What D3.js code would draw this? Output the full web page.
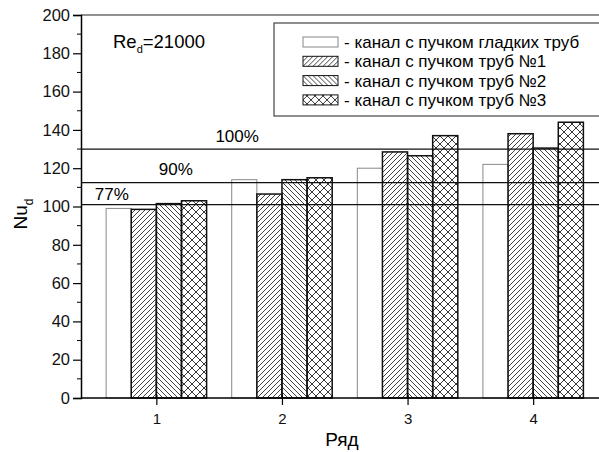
<!DOCTYPE html>
<html>
<head>
<meta charset="utf-8">
<script src="https://cdn.jsdelivr.net/npm/d3@7"></script>
<style>
  body { margin: 0; background: #fff; }
  svg { font-family: Arial, "Liberation Sans", sans-serif; }
</style>
</head>
<body>
<svg id="chart" width="599" height="452"></svg>
<script>
// data
let rows = [1, 2, 3, 4];
let seriesNames = [
  "- канал с пучком гладких труб",
  "- канал с пучком труб №1",
  "- канал с пучком труб №2",
  "- канал с пучком труб №3"
];
let smooth = [99, 114, 120, 122];
let tubes1 = [98.5, 106.5, 128.5, 138];
let tubes2 = [101.5, 114, 126.5, 130.5];
let tubes3 = [103, 115, 137, 144];
let refLevels = [130, 112.5, 101];
let refLabels = ["100%", "90%", "77%"];
let yTicks = [0, 20, 40, 60, 80, 100, 120, 140, 160, 180, 200];

let allSeries = [smooth, tubes1, tubes2, tubes3];
let fills = ["#fff", "url(#hatch1)", "url(#hatch2)", "url(#hatch3)"];

let svg = d3.select("#chart");
let plotLeft = 81, plotTop = 15, plotBottom = 398;

let x = d3.scaleLinear().domain([0.4, 4.6]).range([plotLeft, plotLeft + 4.2 * 125.6]);
let y = d3.scaleLinear().domain([0, 200]).range([plotBottom, plotTop]);
let inGroup = d3.scaleBand().domain(d3.range(4)).range([-0.4, 0.4]);

// hatch patterns
let defs = svg.append("defs");
defs.append("pattern").attr("id", "hatch1")
  .attr("patternUnits", "userSpaceOnUse").attr("width", 5).attr("height", 5)
  .append("path").attr("d", "M-1,1 l2,-2 M0,5 l5,-5 M4,6 l2,-2")
  .attr("stroke", "#222").attr("stroke-width", 0.85);
defs.append("pattern").attr("id", "hatch2")
  .attr("patternUnits", "userSpaceOnUse").attr("width", 5).attr("height", 5)
  .append("path").attr("d", "M-1,4 l2,2 M0,0 l5,5 M4,-1 l2,2")
  .attr("stroke", "#222").attr("stroke-width", 0.85);
let p3 = defs.append("pattern").attr("id", "hatch3")
  .attr("patternUnits", "userSpaceOnUse").attr("width", 8).attr("height", 8);
p3.append("path").attr("d", "M0,0 L8,8 M0,8 L8,0")
  .attr("stroke", "#222").attr("stroke-width", 0.9);

// bars
let bars = [];
allSeries.forEach((s, si) => {
  s.forEach((v, i) => bars.push({ si: si, row: rows[i], v: v }));
});

svg.append("g").selectAll("rect")
  .data(bars)
  .enter()
  .append("rect")
  .attr("x", d => x(d.row + inGroup(d.si)))
  .attr("y", d => y(d.v))
  .attr("width", d => x(inGroup.bandwidth()) - x(0))
  .attr("height", d => y(0) - y(d.v))
  .attr("fill", d => fills[d.si])
  .attr("stroke", d => d.si === 0 ? "#888" : "#111")
  .attr("stroke-width", d => d.si === 0 ? 1 : 1.5);

// reference lines
svg.append("g").selectAll("line")
  .data(refLevels)
  .enter()
  .append("line")
  .attr("x1", plotLeft).attr("x2", 599)
  .attr("y1", d => y(d)).attr("y2", d => y(d))
  .attr("stroke", "#111").attr("stroke-width", 1.3);

let labelX = [1.47, 1.02, 0.51];
let labelGap = [7, 8, 5];
svg.append("g").selectAll("text")
  .data(refLabels)
  .enter()
  .append("text")
  .attr("x", (d, i) => x(labelX[i]))
  .attr("y", (d, i) => y(refLevels[i]) - labelGap[i])
  .attr("font-size", 17)
  .text(d => d);

// frame top
svg.append("line")
  .attr("x1", plotLeft).attr("x2", 599).attr("y1", plotTop).attr("y2", plotTop)
  .attr("stroke", "#222").attr("stroke-width", 1.2);

// y axis
let yAxis = svg.append("g")
  .attr("transform", `translate(${plotLeft},0)`)
  .call(d3.axisLeft(y).tickValues(yTicks).tickSize(8).tickPadding(3));
yAxis.selectAll("text").attr("font-size", 16.5).attr("fill", "#111");
yAxis.append("g").selectAll("line")
  .data(d3.range(10, 200, 20))
  .enter()
  .append("line")
  .attr("x1", -4).attr("x2", 0)
  .attr("y1", d => y(d)).attr("y2", d => y(d))
  .attr("stroke", "#000");
yAxis.select(".domain").attr("stroke-width", 1.5);
yAxis.selectAll(".tick line").attr("stroke-width", 1.2);

// x axis
let xAxis = svg.append("g")
  .attr("transform", `translate(0,${plotBottom})`)
  .call(d3.axisBottom(x).tickValues(rows).tickFormat(d3.format("d")).tickSize(7).tickPadding(8));
xAxis.select(".domain").attr("d", `M${plotLeft},0H599`).attr("stroke-width", 1.5);
xAxis.selectAll(".tick line").attr("y1", -3).attr("stroke-width", 1.2);
xAxis.selectAll("text").attr("font-size", 15).attr("fill", "#111");

// axis titles
svg.append("text")
  .attr("x", 342).attr("y", 446)
  .attr("text-anchor", "middle")
  .attr("font-size", 19)
  .text("Ряд");

let yt = svg.append("text")
  .attr("transform", "translate(27,214) rotate(-90)")
  .attr("text-anchor", "middle")
  .attr("font-size", 19);
yt.append("tspan").text("Nu");
yt.append("tspan").attr("font-size", 12).attr("dy", 6).text("d");

// Re label
let re = svg.append("text").attr("x", 113).attr("y", 48).attr("font-size", 18.5);
re.append("tspan").text("Re");
re.append("tspan").attr("font-size", 11).attr("dy", 5).text("d");
re.append("tspan").attr("dy", -5).text("=21000");

// legend
let leg = svg.append("g");
leg.append("rect")
  .attr("x", 274).attr("y", 23).attr("width", 340).attr("height", 93)
  .attr("fill", "#fff").attr("stroke", "#444").attr("stroke-width", 1.2);
let items = leg.selectAll("g.item")
  .data(seriesNames)
  .enter()
  .append("g")
  .attr("transform", (d, i) => `translate(303,${42 + i * 19.3})`);
items.append("rect")
  .attr("x", 0).attr("y", -5).attr("width", 35).attr("height", 10)
  .attr("fill", (d, i) => fills[i])
  .attr("stroke", (d, i) => i === 0 ? "#888" : "#111")
  .attr("stroke-width", 1);
items.append("text")
  .attr("x", 41).attr("y", 6)
  .attr("font-size", 17)
  .text(d => d);
</script>
</body>
</html>
